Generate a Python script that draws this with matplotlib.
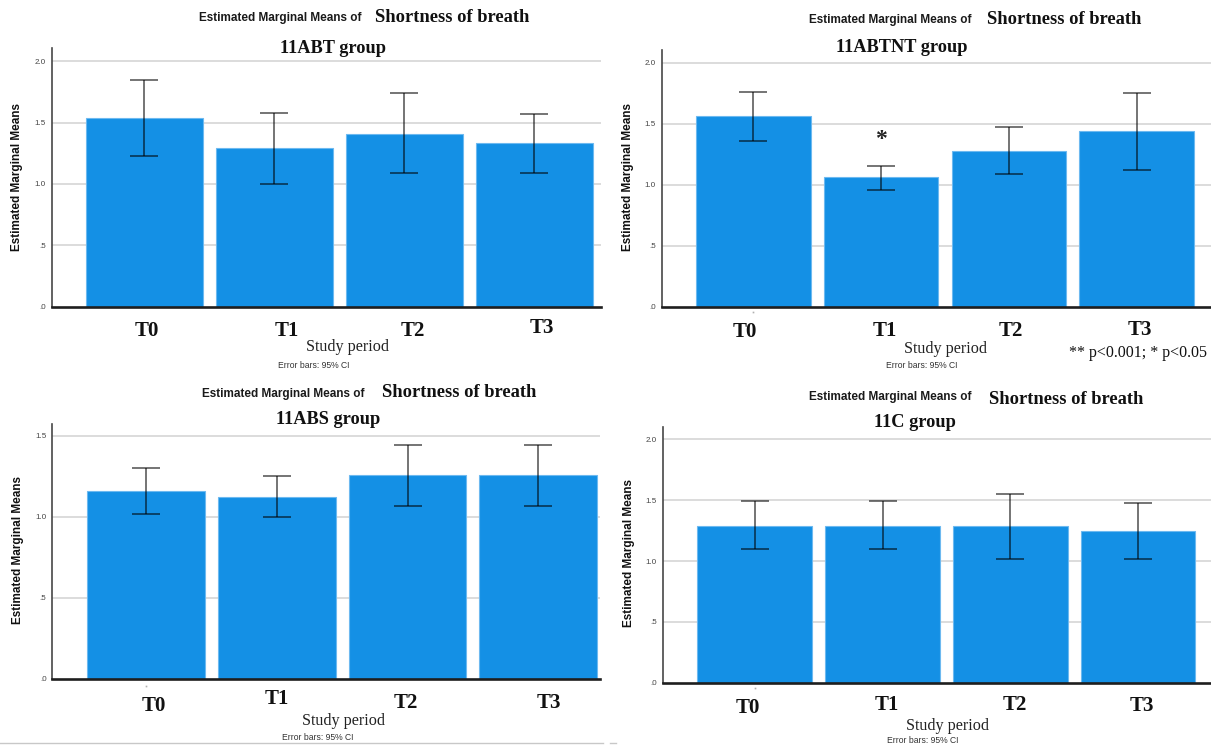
import matplotlib
matplotlib.use("Agg")
import matplotlib.pyplot as plt
from matplotlib.lines import Line2D

# ---- data: estimated marginal means with 95% CI per study period ----
categories = ["T0", "T1", "T2", "T3"]

abt_means = [1.54, 1.29, 1.41, 1.33]
abt_lower = [1.23, 1.00, 1.09, 1.09]
abt_upper = [1.85, 1.58, 1.74, 1.57]

abtnt_means = [1.56, 1.06, 1.28, 1.44]
abtnt_lower = [1.36, 0.96, 1.09, 1.12]
abtnt_upper = [1.76, 1.15, 1.47, 1.75]

abs_means = [1.16, 1.125, 1.26, 1.26]
abs_lower = [1.02, 1.00, 1.07, 1.07]
abs_upper = [1.30, 1.255, 1.445, 1.445]

c_means = [1.29, 1.29, 1.29, 1.25]
c_lower = [1.095, 1.095, 1.02, 1.02]
c_upper = [1.49, 1.49, 1.55, 1.475]

group_titles = ["11ABT group", "11ABTNT group", "11ABS group", "11C group"]
yticks_full = [0.0, 0.5, 1.0, 1.5, 2.0]
yticks_short = [0.0, 0.5, 1.0, 1.5]
ytick_labels_full = [".0", ".5", "1.0", "1.5", "2.0"]
ytick_labels_short = [".0", ".5", "1.0", "1.5"]
significance_note = "** p<0.001; * p<0.05"

# ---- figure geometry (pixels) ----
W, H = 1211, 747
fig = plt.figure(figsize=(W / 100, H / 100), dpi=100)
fig.patch.set_facecolor("white")

SERIF = "Liberation Serif"
SANS = "Liberation Sans"
BAR = "#1490E5"
BAR_EDGE = "#6DB9F0"


def px_rect(l, t, r, b):
    return [l / W, 1 - b / H, (r - l) / W, (b - t) / H]


def ftext(x, y, s, **kw):
    kw.setdefault("ha", "center")
    kw.setdefault("va", "baseline")
    fig.text(x / W, 1 - y / H, s, **kw)


panels = [
    dict(means=abt_means, lo=abt_lower, hi=abt_upper, title=group_titles[0],
         rect=(51.7, 48, 601, 306.7), ymax=2.108, xlim=(-0.712, 3.513), width=0.898,
         ticks=yticks_full, tlabels=ytick_labels_full, dot=False,
         emm=(280, 21.3), sob=(452.5, 21.7), grp=(333, 53.3),
         tlab=[(147, 336), (287, 336), (412.5, 336), (541.5, 333)],
         study=(347, 350.7), err=(313.5, 368.3), ylab=(17, 177)),
    dict(means=abtnt_means, lo=abtnt_lower, hi=abtnt_upper, title=group_titles[1],
         rect=(661.7, 50, 1211, 306.7), ymax=2.104, xlim=(-0.717, 3.581), width=0.897,
         ticks=yticks_full, tlabels=ytick_labels_full, dot=True,
         emm=(890, 22.8), sob=(1064, 23.5), grp=(902, 51.7),
         tlab=[(745, 337.3), (884.7, 336), (1011, 336), (1140, 335)],
         study=(945, 353.3), err=(922, 368), ylab=(628, 177)),
    dict(means=abs_means, lo=abs_lower, hi=abs_upper, title=group_titles[2],
         rect=(52.3, 424, 600, 678.7), ymax=1.574, xlim=(-0.718, 3.472), width=0.90,
         ticks=yticks_short, tlabels=ytick_labels_short, dot=True,
         emm=(283.6, 396.7), sob=(459.6, 396.7), grp=(328, 424.3),
         tlab=[(154.3, 711), (276.6, 704.3), (406, 707.7), (549, 708.3)],
         study=(343, 725), err=(318, 740.5), ylab=(18, 549.5)),
    dict(means=c_means, lo=c_lower, hi=c_upper, title=group_titles[3],
         rect=(662.7, 426.7, 1211, 682.7), ymax=2.104, xlim=(-0.72, 3.57), width=0.897,
         ticks=yticks_full, tlabels=ytick_labels_full, dot=True,
         emm=(890.7, 400.3), sob=(1066, 404), grp=(915, 426.7),
         tlab=[(747.5, 713.3), (887, 710), (1014.6, 710), (1141.7, 711)],
         study=(947, 730), err=(923, 743), ylab=(629, 553)),
]

axes = []
for p in panels:
    ax = fig.add_axes(px_rect(*p["rect"]))
    axes.append(ax)
    x = list(range(len(categories)))
    ax.bar(x, p["means"], width=p["width"], color=BAR, edgecolor=BAR_EDGE,
           linewidth=0.8, zorder=2)
    yerr = [[m - l for m, l in zip(p["means"], p["lo"])],
            [h - m for m, h in zip(p["means"], p["hi"])]]
    ax.errorbar(x, p["means"], yerr=yerr, fmt="none", ecolor="black",
                alpha=0.64, elinewidth=1.2, capsize=10.2, capthick=1.2, zorder=3)

    ax.set_xlim(*p["xlim"])
    ax.set_ylim(0, p["ymax"])
    ax.set_yticks(p["ticks"])
    ax.set_yticklabels(p["tlabels"], fontsize=5.8, color="#444444", family=SANS)
    ax.tick_params(axis="y", length=0, pad=4.2)
    ax.set_xticks([])

    for g in p["ticks"][1:]:
        ax.axhline(g, color="#D9D9D9", lw=1.3, zorder=1)

    for side in ("top", "right"):
        ax.spines[side].set_visible(False)
    ax.spines["left"].set_color("#474747")
    ax.spines["left"].set_linewidth(1.2)
    ax.spines["bottom"].set_color("#1E1E1E")
    ax.spines["bottom"].set_linewidth(1.9)
    ax.spines["bottom"].set_zorder(4)
    ax.set_facecolor("none")

    if p["dot"]:
        ax.plot([0], [-0.045], marker="s", ms=1.2, color="#B0B0B0",
                mec="none", clip_on=False)

    # header: small sans prefix plus serif variable name, then group line
    ftext(*p["emm"], "Estimated Marginal Means of", family=SANS,
          fontweight="bold", fontsize=8.5, color="#1A1A1A")
    ftext(*p["sob"], "Shortness of breath", family=SERIF,
          fontweight="bold", fontsize=13.3, color="#111111")
    ftext(*p["grp"], p["title"], family=SERIF, fontweight="bold",
          fontsize=13.2, color="#111111")

    for (tx, ty), lab in zip(p["tlab"], categories):
        ftext(tx, ty, lab, family=SERIF, fontweight="bold", fontsize=15,
              color="#111111")

    ftext(*p["study"], "Study period", family=SERIF, fontsize=11.6,
          color="#222222")
    ftext(*p["err"], "Error bars: 95% CI", family=SANS, fontsize=6.2,
          color="#333333")
    ftext(*p["ylab"], "Estimated Marginal Means", family=SANS,
          fontweight="bold", fontsize=8.5, rotation=90, va="center",
          color="#111111")

# significance marker over T1 in the 11ABTNT panel
axes[1].text(1, 1.37, "*", ha="center", va="center", family=SERIF,
             fontweight="bold", fontsize=17, color="#222222")
ftext(1138, 357.3, significance_note, family=SERIF, fontsize=11.5,
      color="#111111")

# thin separator under the lower-left panel
fig.add_artist(Line2D([0, 603 / W], [1 - 743 / H, 1 - 743 / H],
                      color="#C8C8C8", lw=1.0))
fig.add_artist(Line2D([610 / W, 616 / W], [1 - 743 / H, 1 - 743 / H],
                      color="#C8C8C8", lw=1.0))

fig.savefig("out.png", dpi=100, facecolor="white")
